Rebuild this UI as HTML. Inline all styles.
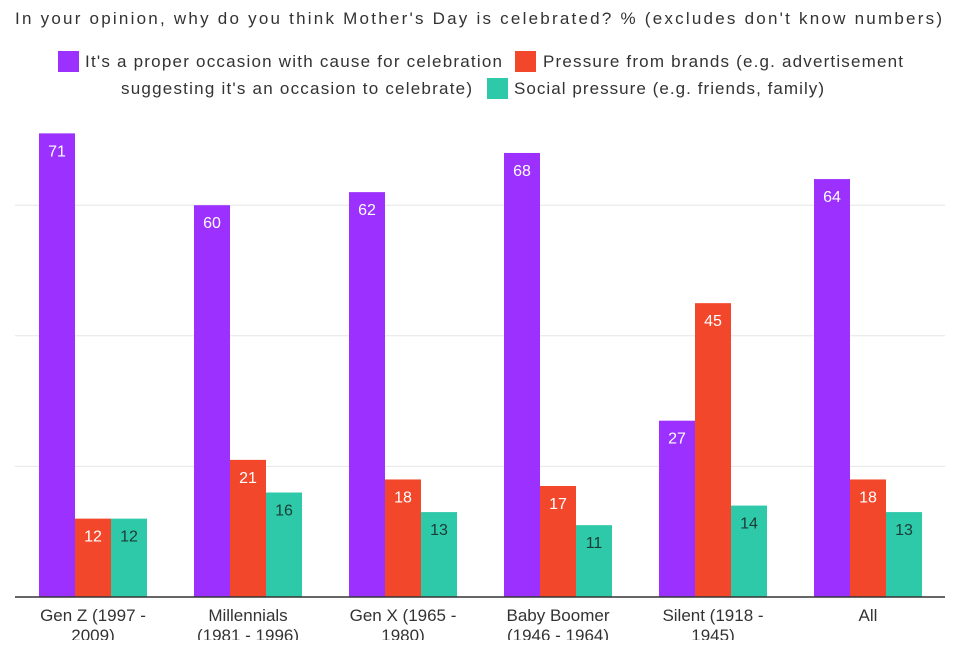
<!DOCTYPE html>
<html><head><meta charset="utf-8"><style>
body{margin:0;background:#fff;width:960px;height:640px;overflow:hidden;font-family:"Liberation Sans",sans-serif}
</style></head><body>
<svg width="960" height="640" id="svg" font-family="Liberation Sans, sans-serif">
<text x="15" y="24" font-size="17" fill="#333" textLength="927" lengthAdjust="spacing">In your opinion, why do you think Mother's Day is celebrated? % (excludes don't know numbers)</text>
<g>
<rect x="58" y="51" width="21" height="21" fill="#9b30ff"/>
<text x="85" y="67" font-size="17" fill="#333" textLength="417" lengthAdjust="spacing">It's a proper occasion with cause for celebration</text>
<rect x="515" y="51" width="21" height="21" fill="#f2472b"/>
<text x="543" y="67" font-size="17" fill="#333" textLength="360" lengthAdjust="spacing">Pressure from brands (e.g. advertisement</text>
<text x="121" y="94" font-size="17" fill="#333" textLength="351" lengthAdjust="spacing">suggesting it's an occasion to celebrate)</text>
<rect x="487" y="78" width="21" height="21" fill="#2ec9a8"/>
<text x="514" y="94" font-size="17" fill="#333" textLength="310" lengthAdjust="spacing">Social pressure (e.g. friends, family)</text>
</g>
<g id="plot"></g>
</svg>
<script>
const categories=["Gen Z (1997 -|2009)","Millennials|(1981 - 1996)","Gen X (1965 -|1980)","Baby Boomer|(1946 - 1964)","Silent (1918 -|1945)","All"];
const properValues=[71,60,62,68,27,64];
const brandValues=[12,21,18,17,45,18];
const socialValues=[12,16,13,11,14,13];
const gridTicks=[20,40,60];
const series=[{v:properValues,c:"#9b30ff",t:"#fff",n:"proper"},{v:brandValues,c:"#f2472b",t:"#fff",n:"brands"},{v:socialValues,c:"#2ec9a8",t:"#1d3b36",n:"social"}];
const base=597,scale=6.53;
const y=v=>base-v*scale;
const gx=i=>39+i*155;
const NS="http://www.w3.org/2000/svg";
const g=document.getElementById("plot");
function mk(t,a){const e=document.createElementNS(NS,t);for(const k in a)e.setAttribute(k,a[k]);g.appendChild(e);return e;}
gridTicks.forEach(t=>{const l=mk("line",{x1:15,x2:945,y1:y(t),y2:y(t),stroke:"#e6e6e6","stroke-width":1});

});
series.forEach((s,si)=>{s.v.forEach((v,i)=>{
const x=gx(i)+si*36;
const r=mk("rect",{x:x,y:y(v),width:36,height:v*scale,fill:s.c});


const tx=mk("text",{x:x+18,y:y(v)+23,"text-anchor":"middle","font-size":16,fill:s.t});
tx.textContent=v;


});});
const ax=mk("line",{x1:15,x2:945,y1:base,y2:base,stroke:"#333","stroke-width":1.5});


categories.forEach((c,i)=>{c.split("|").forEach((line,li)=>{
const t=mk("text",{x:gx(i)+54,y:621+li*20,"text-anchor":"middle","font-size":17,fill:"#333"});
t.textContent=line;


});});
</script>
</body></html>
